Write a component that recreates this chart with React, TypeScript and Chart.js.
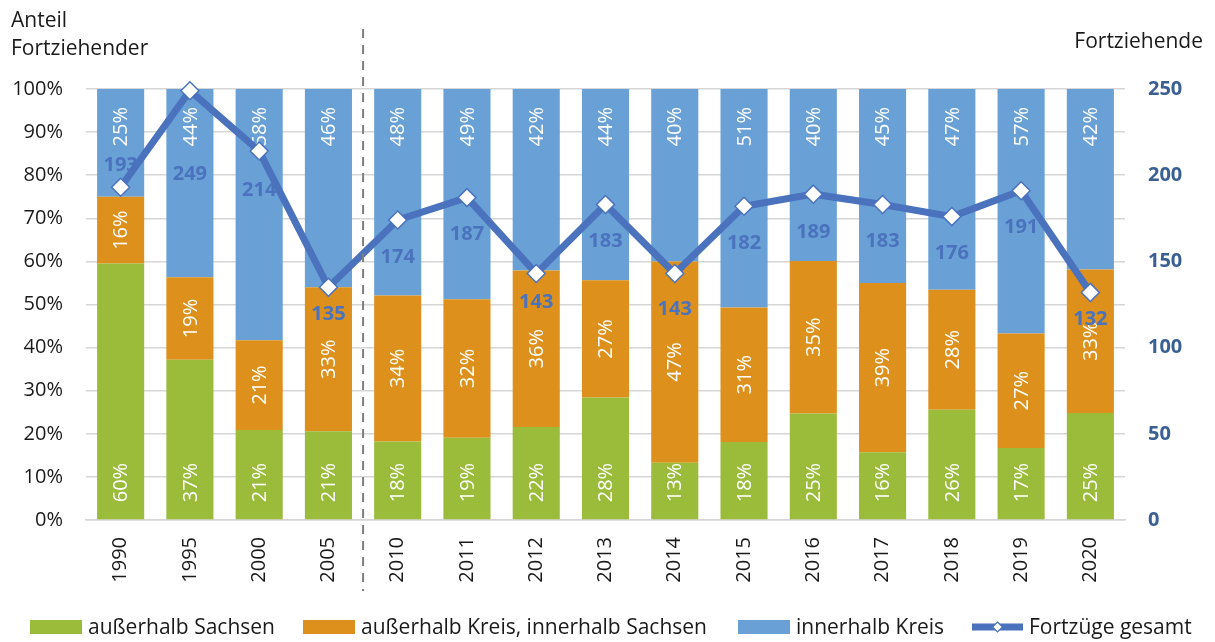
import React, { useEffect, useRef } from "react";
import { Chart, registerables } from "chart.js";

Chart.register(...registerables);

const years = ["1990", "1995", "2000", "2005", "2010", "2011", "2012", "2013", "2014", "2015", "2016", "2017", "2018", "2019", "2020"];
const outsideSaxony = [59.5, 37.2, 20.9, 20.6, 18.2, 19.1, 21.6, 28.4, 13.3, 18.1, 24.7, 15.7, 25.6, 16.7, 24.8];
const outsideDistrict = [15.5, 19.1, 20.8, 33.4, 33.9, 32.1, 36.3, 27.2, 46.7, 31.2, 35.4, 39.3, 27.8, 26.6, 33.3];
const withinDistrict = [25.0, 43.7, 58.3, 46.0, 47.9, 48.8, 42.1, 44.4, 40.0, 50.7, 39.9, 45.0, 46.6, 56.7, 41.9];
const totalMovers = [193, 249, 214, 135, 174, 187, 143, 183, 143, 182, 189, 183, 176, 191, 132];
const pctTicks = [0, 10, 20, 30, 40, 50, 60, 70, 80, 90, 100];
const countTicks = [0, 50, 100, 150, 200, 250];

const seriesNames = ["außerhalb Sachsen", "außerhalb Kreis, innerhalb Sachsen", "innerhalb Kreis", "Fortzüge gesamt"];

// label placement (style only)
const lineLabelOffsets = [-22, 84, 39, 27, 37, 37, 29, 37, 36, 37, 38, 37, 37, 37, 27];
const legendStartX = [30, 303, 738, 972];
const legendBoxW = [52, 52, 52, 51];

const GREEN = "#9bbb3b";
const ORANGE = "#dd911c";
const BLUE = "#69a1d7";
const LINE = "#4a72bd";
const AXISBLUE = "#3a5f93";
const FONT = "'Open Sans', sans-serif";

const overlayPlugin = {
  id: "overlay",
  afterDatasetDraw(chart: any, args: any) {
    const idx = args.index;
    if (idx > 2) return;
    const ctx = chart.ctx;
    const meta = chart.getDatasetMeta(idx);
    const data = chart.data.datasets[idx].data as number[];
    ctx.save();
    ctx.fillStyle = "#ffffff";
    ctx.font = `20px ${FONT}`;
    ctx.textBaseline = "middle";
    meta.data.forEach((el: any, i: number) => {
      const label = Math.round(data[i]) + "%";
      const top = Math.min(el.y, el.base);
      const bottom = Math.max(el.y, el.base);
      ctx.save();
      if (idx === 0) {
        ctx.translate(el.x, bottom - 17);
        ctx.rotate(-Math.PI / 2);
        ctx.textAlign = "left";
      } else if (idx === 1) {
        ctx.translate(el.x, (top + bottom) / 2);
        ctx.rotate(-Math.PI / 2);
        ctx.textAlign = "center";
      } else {
        ctx.translate(el.x, top + 18);
        ctx.rotate(-Math.PI / 2);
        ctx.textAlign = "right";
      }
      ctx.fillText(label, 0, 1);
      ctx.restore();
    });
    ctx.restore();
  },
  afterDatasetsDraw(chart: any) {
    const ctx = chart.ctx;
    const meta = chart.getDatasetMeta(3);
    const data = chart.data.datasets[3].data as number[];
    ctx.save();
    ctx.fillStyle = LINE;
    ctx.font = `bold 20px ${FONT}`;
    ctx.textAlign = "center";
    ctx.textBaseline = "middle";
    meta.data.forEach((pt: any, i: number) => {
      ctx.fillText(String(data[i]), pt.x, pt.y + lineLabelOffsets[i]);
    });
    ctx.restore();
  },
  afterDraw(chart: any) {
    const ctx = chart.ctx;
    const xs = chart.scales.x;
    ctx.save();
    // dashed separator between 2005 and 2010
    const sx = (xs.getPixelForValue(3) + xs.getPixelForValue(4)) / 2;
    ctx.strokeStyle = "#7f7f7f";
    ctx.lineWidth = 2;
    ctx.setLineDash([9, 7]);
    ctx.beginPath();
    ctx.moveTo(sx, 29);
    ctx.lineTo(sx, 591);
    ctx.stroke();
    ctx.setLineDash([]);

    // axis titles
    ctx.fillStyle = "#1a1a1a";
    ctx.font = `21px ${FONT}`;
    ctx.textBaseline = "alphabetic";
    ctx.textAlign = "left";
    ctx.fillText("Anteil", 11, 27);
    ctx.fillText("Fortziehender", 11, 55);
    ctx.textAlign = "right";
    ctx.fillText("Fortziehende", 1203, 48);

    // legend
    const colors = [GREEN, ORANGE, BLUE, LINE];
    ctx.textAlign = "left";
    ctx.textBaseline = "middle";
    const ly = 627;
    seriesNames.forEach((name, i) => {
      const x0 = legendStartX[i];
      const w = legendBoxW[i];
      if (i < 3) {
        ctx.fillStyle = colors[i];
        ctx.fillRect(x0, ly - 7, w, 14);
      } else {
        ctx.strokeStyle = LINE;
        ctx.lineWidth = 7;
        ctx.beginPath();
        ctx.moveTo(x0, ly);
        ctx.lineTo(x0 + w, ly);
        ctx.stroke();
        const cx = x0 + w / 2;
        const r = 5;
        ctx.beginPath();
        ctx.moveTo(cx, ly - r);
        ctx.lineTo(cx + r, ly);
        ctx.lineTo(cx, ly + r);
        ctx.lineTo(cx - r, ly);
        ctx.closePath();
        ctx.fillStyle = "#ffffff";
        ctx.fill();
        ctx.lineWidth = 1.2;
        ctx.stroke();
      }
      ctx.fillStyle = "#1a1a1a";
      ctx.font = `21px ${FONT}`;
      ctx.fillText(name, x0 + w + 6, ly + 1);
    });
    ctx.restore();
  },
};

export default function App() {
  const canvasRef = useRef<HTMLCanvasElement | null>(null);

  useEffect(() => {
    document.body.style.margin = "0";
    const canvas = canvasRef.current;
    if (!canvas) return;
    const chart = new Chart(canvas, {
      type: "bar",
      data: {
        labels: years,
        datasets: [
          { type: "bar", label: seriesNames[0], data: outsideSaxony, backgroundColor: GREEN, stack: "pct", yAxisID: "y", order: 1, barPercentage: 0.68, categoryPercentage: 1, borderWidth: 0 },
          { type: "bar", label: seriesNames[1], data: outsideDistrict, backgroundColor: ORANGE, stack: "pct", yAxisID: "y", order: 1, barPercentage: 0.68, categoryPercentage: 1, borderWidth: 0 },
          { type: "bar", label: seriesNames[2], data: withinDistrict, backgroundColor: BLUE, stack: "pct", yAxisID: "y", order: 1, barPercentage: 0.68, categoryPercentage: 1, borderWidth: 0 },
          {
            type: "line",
            label: seriesNames[3],
            data: totalMovers,
            yAxisID: "y1",
            order: 0,
            borderColor: LINE,
            borderWidth: 7,
            tension: 0,
            pointStyle: "rectRot",
            pointRadius: 9,
            pointBackgroundColor: "#ffffff",
            pointBorderColor: LINE,
            pointBorderWidth: 1.5,
            clip: false,
          } as any,
        ],
      },
      options: {
        responsive: false,
        animation: false,
        devicePixelRatio: 1,
        layout: { padding: { top: 89, bottom: 0, left: 0, right: 0 } },
        plugins: { legend: { display: false }, tooltip: { enabled: false } },
        scales: {
          x: {
            stacked: true,
            grid: { display: false, drawTicks: false },
            border: { display: true, color: "#d6d6d6", width: 1.5 },
            ticks: { minRotation: 90, maxRotation: 90, padding: 17, color: "#1a1a1a", font: { family: FONT, size: 20 } },
            afterFit: (s: any) => { s.height = 122; },
          },
          y: {
            stacked: true,
            min: 0,
            max: 100,
            afterBuildTicks: (s: any) => { s.ticks = pctTicks.map((v) => ({ value: v })); },
            ticks: { padding: 23, color: "#1a1a1a", font: { family: FONT, size: 20 }, callback: (v: any) => v + "%" },
            grid: { color: "#d6d6d6", lineWidth: 1.5, drawTicks: false },
            border: { display: false },
            afterFit: (s: any) => { s.width = 86; },
          },
          y1: {
            position: "right",
            min: 0,
            max: 250,
            afterBuildTicks: (s: any) => { s.ticks = countTicks.map((v) => ({ value: v })); },
            ticks: { padding: 23, color: AXISBLUE, font: { family: FONT, size: 20, weight: "bold" } },
            grid: { drawOnChartArea: false, drawTicks: false },
            border: { display: false },
            afterFit: (s: any) => { s.width = 90; },
          },
        },
      },
      plugins: [overlayPlugin],
    });
    return () => chart.destroy();
  }, []);

  return (
    <div style={{ width: 1215, height: 642, background: "#ffffff" }}>
      <canvas ref={canvasRef} width={1215} height={642} style={{ width: 1215, height: 642, display: "block" }} />
    </div>
  );
}
